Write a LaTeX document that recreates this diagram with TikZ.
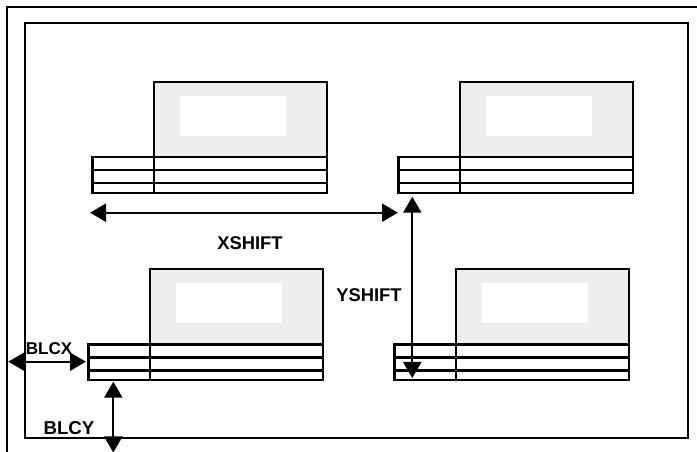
\documentclass[tikz,border=0pt]{standalone}
\usepackage{fontspec}
\setmainfont{Liberation Sans}
\usetikzlibrary{arrows.meta}
\definecolor{padfill}{HTML}{EEEEEE}
\begin{document}
\begin{tikzpicture}[x=0.75pt,y=-0.75pt,
  frameline/.style={line width=1.7pt,draw=black},
  padline/.style={line width=1.7pt,draw=black},
  padgray/.style={padline,fill=padfill,anchor=north west,inner sep=0pt,outer sep=0pt,minimum width=129.75pt,minimum height=56.6pt},
  padwhite/.style={fill=white,draw=none,anchor=north west,inner sep=0pt,outer sep=0pt,minimum width=79.5pt,minimum height=29.6pt},
  padtable/.style={padline,anchor=north west,inner sep=0pt,outer sep=0pt,minimum width=175.9pt,minimum height=26.6pt},
  dimarrow/.style={line width=1.6pt,{Triangle[length=12pt,width=13.5pt]}-{Triangle[length=12pt,width=13.5pt]}},
  lab/.style={font=\bfseries\fontsize{13.8}{16}\selectfont,inner sep=0pt}
]
\clip (0,0) rectangle (697,452);
\fill[white] (0,0) rectangle (697,452);
% outer frame (only its top and left edges fall inside the picture)
\coordinate (obl) at (7.3,470);
\coordinate (otl) at (7.3,7.3);
\coordinate (otr) at (720,7.3);
\draw[frameline] (obl) -- (otl) -- (otr);
% inner frame
\draw[frameline] (25,23) rectangle (688,438);
% pads
\foreach \n/\ox/\oy in {a/154/81.7, b/460/81.7, c/150/269, d/456/269} {
  \node[padgray] (\n g) at (\ox,\oy) {};
  \node[padwhite] (\n w) at (\ox+26,\oy+14.5) {};
  \node[padtable] (\n t) at (\ox-61.5,\oy+75.5) {};
  \draw[padline] ([yshift=-9.75pt]\n t.north west) -- ([yshift=-9.75pt]\n t.north east);
  \draw[padline] ([yshift=-19.5pt]\n t.north west) -- ([yshift=-19.5pt]\n t.north east);
  \draw[padline] (\n g.south west) -- (\n g.south west |- \n t.south);
}
% dimension arrows
\coordinate (xs1) at (90,212.7);
\coordinate (xs2) at (398,212.7);
\draw[dimarrow] (xs1) -- (xs2);
\coordinate (ys1) at (412.3,196.7);
\coordinate (ys2) at (412.3,378);
\draw[dimarrow] (ys1) -- (ys2);
\coordinate (bx1) at (8.3,361.7);
\coordinate (bx2) at (86,361.7);
\draw[dimarrow] (bx1) -- (bx2);
\coordinate (by1) at (113.3,381.7);
\coordinate (by2) at (113.3,452.5);
\draw[dimarrow] (by1) -- (by2);
% labels
\node[lab] (lxs) at (250,243.3) {XSHIFT};
\node[lab] (lys) at (369,295) {YSHIFT};
\node[lab,font=\bfseries\fontsize{12.8}{15}\selectfont] (lbx) at (49,349) {BLCX};
\node[lab,font=\bfseries\fontsize{14}{16}\selectfont] (lby) at (69,428) {BLCY};
\end{tikzpicture}
\end{document}
